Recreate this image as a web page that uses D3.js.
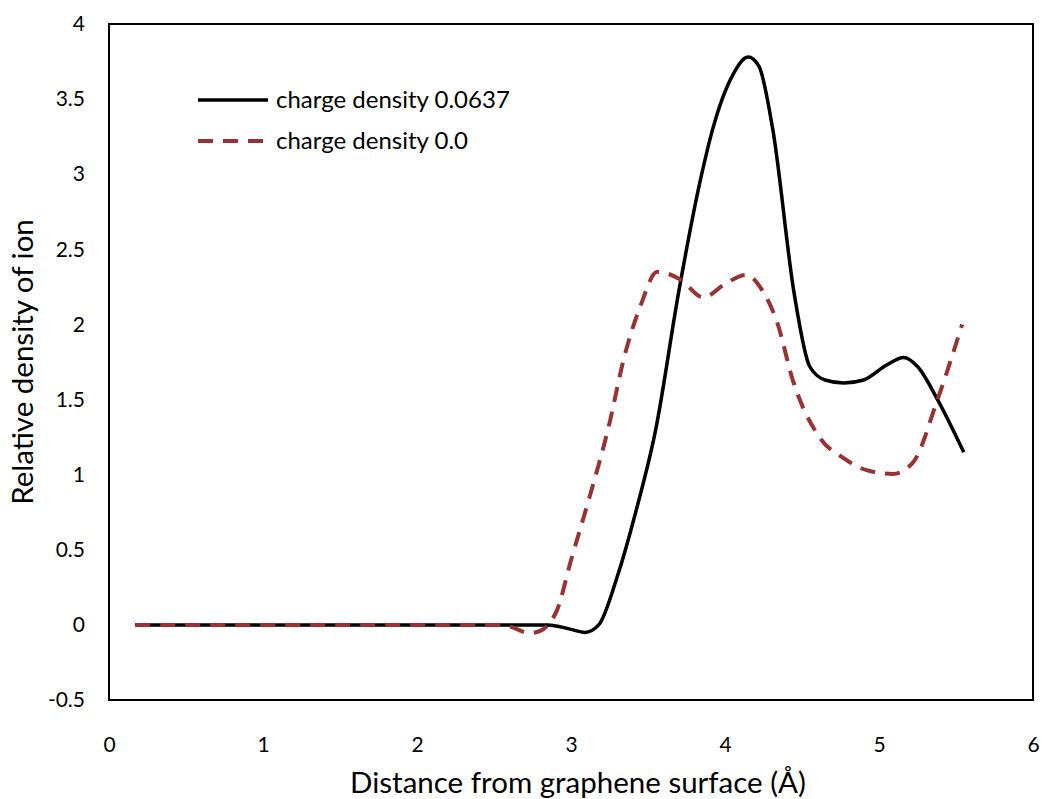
<!DOCTYPE html>
<html><head><meta charset="utf-8">
<script src="https://cdn.jsdelivr.net/npm/d3@7"></script>
<style>body{margin:0;background:#fff}svg{display:block;font-family:Lato,"Open Sans",sans-serif}</style>
</head><body><svg id="c" width="1042" height="799"></svg>
<script>
const xTicks = [0,1,2,3,4,5,6];
const yTicks = [-0.5,0,0.5,1,1.5,2,2.5,3,3.5,4];
const seriesNames = ["charge density 0.0637","charge density 0.0"];
const xBlack = [0.17,0.5,1,1.5,2,2.5,2.85,3.0,3.09,3.18,3.3,3.42,3.55,3.7,3.84,3.92,4.05,4.15,4.22,4.31,4.45,4.55,4.65,4.77,4.9,5.05,5.16,5.25,5.38,5.55];
const yBlack = [0,0,0,0,0,0,0,-0.03,-0.05,0,0.32,0.75,1.3,2.22,2.96,3.3,3.66,3.78,3.72,3.30,2.2,1.72,1.63,1.61,1.63,1.73,1.78,1.72,1.50,1.15];
const xRed = [0.17,0.5,1,1.5,2,2.5,2.6,2.73,2.8,2.85,2.91,3.0,3.12,3.24,3.35,3.45,3.56,3.71,3.86,4.0,4.14,4.24,4.34,4.44,4.62,4.77,4.92,5.09,5.22,5.38,5.54];
const yRed = [0,0,0,0,0,0,-0.01,-0.055,-0.04,0.0,0.1,0.43,0.85,1.3,1.8,2.12,2.35,2.30,2.18,2.27,2.33,2.23,2.01,1.63,1.24,1.11,1.03,1.005,1.08,1.50,2.0];

const svg = d3.select("#c");
const L=109, R=1033, T=24, B=700;
const x = d3.scaleLinear().domain([0,6]).range([L,R]);
const y = d3.scaleLinear().domain([-0.5,4]).range([B,T]);

svg.append("rect").attr("x",L).attr("y",T).attr("width",R-L).attr("height",B-T)
  .attr("fill","none").attr("stroke","#000").attr("stroke-width",2);

const gx = svg.append("g").attr("transform",`translate(0,${B})`)
  .call(d3.axisBottom(x).tickValues(xTicks).tickSize(0).tickPadding(37).tickFormat(d3.format("")));
gx.select(".domain").remove();
gx.selectAll("text").attr("font-size",21).attr("fill","#000").attr("font-family","Lato");
const gy = svg.append("g").attr("transform",`translate(${L},0)`)
  .call(d3.axisLeft(y).tickValues(yTicks).tickSize(0).tickPadding(24).tickFormat(d=>String(d)));
gy.select(".domain").remove();
gy.selectAll("text").attr("font-size",21).attr("fill","#000").attr("font-family","Lato");

svg.append("text").attr("x",578).attr("y",793).attr("text-anchor","middle")
  .attr("font-size",29.5).text("Distance from graphene surface (Å)");
svg.append("text").attr("transform","translate(33,362) rotate(-90)").attr("text-anchor","middle")
  .attr("font-size",29.5).text("Relative density of ion");

const line = d3.line().x(d=>x(d[0])).y(d=>y(d[1])).curve(d3.curveMonotoneX);
const blackData = xBlack.map((v,i)=>[v,yBlack[i]]);
const redData = xRed.map((v,i)=>[v,yRed[i]]);

svg.append("path").datum(blackData).attr("d",line).attr("fill","none")
  .attr("stroke","#000").attr("stroke-width",3.5).attr("stroke-linejoin","round");
svg.append("path").datum(redData).attr("d",line).attr("fill","none")
  .attr("stroke","#993333").attr("stroke-width",4).attr("stroke-dasharray","15,10");

const leg = [{y:100,c:"#000",dash:null,w:3.5},{y:141,c:"#993333",dash:"15,10",w:4}];
leg.forEach((l,i)=>{
  svg.append("line").attr("x1",198).attr("x2",268).attr("y1",l.y).attr("y2",l.y)
    .attr("stroke",l.c).attr("stroke-width",l.w).attr("stroke-dasharray",l.dash);
  svg.append("text").attr("x",276).attr("y",l.y).attr("dy","0.35em")
    .attr("font-size",24).text(seriesNames[i]);
});
</script></body></html>
